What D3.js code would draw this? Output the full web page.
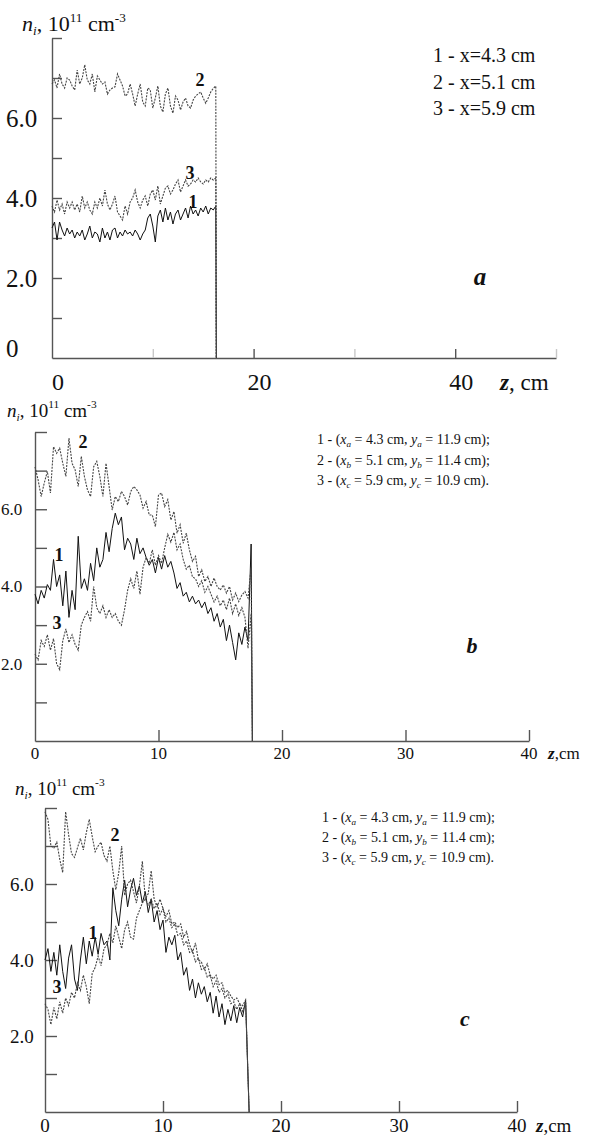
<!DOCTYPE html>
<html>
<head>
<meta charset="utf-8">
<script src="https://cdn.jsdelivr.net/npm/d3@7"></script>
<style>
  body { margin: 0; background: #fff }
  svg text { fill: #111 }
</style>
</head>
<body>
<svg id="fig" width="590" height="1136"></svg>
<script>

// panel a
var aStep = 0.25, aEnd = 16.3
var a1 = [3.25, 3.4, 2.95, 3.4, 3.2, 3.05, 3.25, 3.1, 3.2, 3.0,
  3.15, 3.05, 3.2, 2.95, 3.1, 3.3, 3.0, 3.15, 3.1, 2.9,
  3.25, 3.0, 3.15, 2.95, 3.2, 3.25, 3.0, 3.15, 3.05, 3.2,
  3.1, 3.15, 3.05, 3.2, 3.1, 2.95, 3.1, 3.2, 3.5, 3.6,
  3.3, 2.9, 3.55, 3.7, 3.4, 3.75, 3.45, 3.65, 3.35, 3.6,
  3.7, 3.45, 3.6, 3.75, 3.5, 3.8, 3.6, 3.7, 3.55, 3.75,
  3.65, 3.8, 3.6, 3.75, 3.7, 3.8]
var a2 = [6.85, 6.95, 6.75, 7.1, 6.85, 6.75, 7.0, 6.95, 6.8, 6.7,
  7.2, 6.85, 7.0, 7.33, 6.95, 6.85, 7.1, 6.65, 7.05, 6.95,
  6.85, 6.9, 6.6, 6.7, 6.75, 6.78, 7.1, 6.95, 6.8, 6.55,
  6.6, 6.85, 6.6, 6.3, 6.6, 6.85, 6.4, 6.3, 6.75, 6.7,
  6.25, 6.5, 6.8, 6.3, 6.15, 6.6, 6.75, 6.3, 6.12, 6.55,
  6.45, 6.2, 6.4, 6.5, 6.3, 6.25, 6.45, 6.55, 6.6, 6.65,
  6.5, 6.37, 6.5, 6.65, 6.74, 6.8]
var a3 = [3.8, 3.65, 3.95, 3.7, 3.85, 3.6, 3.9, 3.75, 3.9, 3.7,
  3.85, 3.65, 4.05, 3.75, 3.9, 3.7, 3.6, 3.9, 3.75, 4.0,
  3.8, 4.2, 3.85, 3.7, 3.85, 4.05, 3.65, 3.55, 3.45, 3.8,
  3.6, 3.9, 4.0, 4.2, 3.9, 3.75, 3.95, 4.05, 3.8, 4.1,
  4.2, 3.95, 4.3, 3.85, 4.05, 4.25, 4.3, 4.1, 4.2, 4.35,
  4.45, 4.15, 4.3, 4.45, 4.3, 4.35, 4.45, 4.4, 4.5, 4.4,
  4.35, 4.45, 4.4, 4.5, 4.45, 4.5]

// panel b
var bStep = 0.25, bEnd = 17.6
var b1 = [3.8, 3.55, 3.9, 3.7, 4.05, 3.9, 4.7, 4.0, 4.3, 3.5,
  4.4, 3.2, 3.9, 3.4, 5.3, 3.95, 4.2, 3.9, 4.6, 4.15,
  5.0, 4.5, 4.7, 5.4, 4.9, 5.5, 5.9, 5.6, 5.8, 4.95,
  5.25, 5.1, 4.7, 5.25, 4.85, 5.0, 4.75, 4.55, 4.7, 4.35,
  4.75, 4.45, 4.8, 4.5, 4.65, 4.35, 3.95, 4.1, 3.75, 3.85,
  3.6, 3.75, 3.55, 3.65, 3.45, 3.6, 3.3, 3.45, 3.1, 3.3,
  2.95, 3.15, 2.6, 3.0, 2.55, 2.1, 2.8, 2.5, 2.95, 2.6,
  5.1]
var b2 = [7.1, 6.76, 6.33, 6.68, 6.98, 6.42, 7.62, 7.45, 7.58, 7.19,
  6.85, 7.84, 7.19, 7.02, 6.59, 7.37, 6.85, 6.5, 6.33, 7.1,
  7.24, 6.85, 6.33, 7.19, 6.59, 5.98, 6.33, 6.2, 6.46, 6.33,
  6.11, 6.46, 6.59, 6.5, 6.37, 6.03, 6.2, 5.85, 5.85, 5.55,
  6.37, 6.42, 6.07, 6.25, 5.72, 5.94, 5.38, 5.6, 5.12, 5.38,
  4.95, 4.65, 4.78, 4.26, 4.43, 4.13, 4.26, 4.0, 4.22, 4.0,
  3.91, 4.04, 3.83, 4.0, 3.65, 3.83, 3.61, 3.78, 3.87, 3.7,
  4.5]
var b3 = [2.25, 2.1, 2.6, 2.45, 2.75, 2.35, 2.65, 2.0, 1.85, 2.6,
  2.9, 2.55, 2.75, 2.5, 2.35, 3.0, 3.2, 3.35, 3.1, 4.0,
  3.45, 3.3, 3.5, 3.2, 3.4, 3.2, 3.3, 3.1, 3.0, 3.4,
  3.9, 4.2, 3.95, 4.4, 3.8, 4.5, 4.75, 4.6, 4.95, 4.55,
  4.8, 4.6, 5.0, 5.35, 5.15, 5.4, 4.95, 5.1, 4.7, 4.45,
  4.55, 4.25, 4.2, 4.0, 4.15, 3.85, 4.0, 3.8, 3.6, 3.75,
  3.5, 3.65, 3.4, 3.7, 3.3, 3.55, 3.25, 3.45, 3.2, 2.4,
  3.3]

// panel c
var cStep = 0.25, cEnd = 17.3
var c1 = [4.0, 4.3, 3.7, 4.2, 3.6, 4.4, 3.7, 3.25, 4.05, 4.4,
  3.5, 3.2, 4.0, 4.6, 3.9, 4.5, 4.1, 4.6, 4.15, 4.7,
  4.4, 4.5, 4.0, 5.9, 5.3, 4.9, 5.6, 6.1, 5.4, 5.85,
  6.15, 5.7, 5.95, 5.5, 5.8, 5.25, 5.6, 5.0, 5.3, 4.8,
  5.05, 4.2, 4.6, 4.4, 4.65, 4.0, 4.2, 3.6, 3.8, 3.2,
  3.5, 3.0, 3.4, 3.1, 3.3, 2.9, 3.15, 2.6, 3.05, 2.5,
  2.85, 2.3, 2.7, 2.4, 2.8, 2.35, 2.75, 2.5, 2.95]
var c2 = [7.9, 7.7, 7.0, 6.95, 7.1, 6.65, 6.3, 7.9, 7.3, 6.8,
  6.7, 6.95, 7.2, 6.9, 7.35, 7.7, 7.25, 6.85, 7.0, 7.1,
  6.75, 6.6, 7.0, 6.35, 5.85, 6.3, 7.0, 5.7, 6.0, 6.1,
  5.8, 5.5, 5.95, 6.6, 5.6, 5.75, 6.35, 5.6, 5.4, 5.6,
  5.35, 5.15, 5.3, 4.95, 5.0, 4.85, 4.95, 4.6, 4.75, 4.4,
  4.2, 4.45, 4.0, 3.95, 3.75, 3.9, 3.6, 3.5, 3.6, 3.35,
  3.4, 3.15, 3.2, 3.05, 2.95, 3.0, 2.85, 2.8, 2.95]
var c3 = [2.85, 2.7, 2.3, 2.75, 2.45, 2.9, 2.6, 3.0, 2.8, 3.15,
  3.0, 3.4, 3.2, 3.6, 3.3, 2.85, 3.65, 3.8, 4.1, 3.85,
  4.3, 4.4, 4.7, 4.45, 4.9, 4.6, 4.3, 4.8, 5.0, 4.6,
  4.55, 5.1, 5.3, 5.5, 5.6, 5.45, 5.6, 5.35, 5.5, 5.2,
  5.35, 5.0, 5.1, 4.85, 4.95, 4.65, 4.7, 4.4, 4.5, 4.2,
  4.25, 3.95, 4.05, 3.75, 3.8, 3.55, 3.6, 3.3, 3.45, 3.15,
  3.25, 3.0, 3.1, 2.85, 2.9, 2.7, 2.85, 2.65, 2.9]

var yTicks = [1, 2, 3, 4, 5, 6, 7, 8]
var legendA = ['1 - x=4.3 cm', '2 - x=5.1 cm', '3 - x=5.9 cm']
// curve, subscript, x, y, closing mark
var legendBC = [['1', 'a', '4.3', '11.9', ';'], ['2', 'b', '5.1', '11.4', ';'], ['3', 'c', '5.9', '10.9', '.']]

var serif = 'Liberation Serif, DejaVu Serif, serif'
var svg = d3.select('#fig').attr('font-family', serif)

var panels = [
  {letter: 'a', series: [a1, a2, a3], step: aStep, end: aEnd, zMax: 50, xr: [52, 556], yr: [358, 38], tick: 10,
   xTicks: [10, 20, 30, 40, 50], faint: [10, 30, 50], xLabels: [0, 20, 40], xLabDx: 6, xLabY: 390, xLabSize: 24,
   zLab: [500, 390, 23, ', cm'], yLabels: [0, 2, 4, 6], yLabX: 6, yLabSize: 25,
   title: [22, 31, 22], letterPos: [480, 285, 25], tags: [[193, 208], [200, 86], [190, 179]], tagSize: 18,
   legend: 'a', legPos: [433, 62, 26.5, 20]},
  {letter: 'b', series: [b1, b2, b3], step: bStep, end: bEnd, zMax: 40, xr: [35, 529], yr: [741, 432], tick: 12,
   xTicks: [10, 20, 30, 40], faint: [], xLabels: [0, 10, 20, 30, 40], xLabDx: 0, xLabY: 759, xLabSize: 17,
   zLab: [548, 759, 17, ',cm'], yLabels: [2, 4, 6], yLabX: 1, yLabSize: 17,
   title: [7, 417, 19], letterPos: [472, 653, 22], tags: [[59, 561], [83, 448], [57, 629]], tagSize: 18,
   legend: 'bc', legPos: [317, 444, 20.5, 14]},
  {letter: 'c', series: [c1, c2, c3], step: cStep, end: cEnd, zMax: 40, xr: [45, 517], yr: [1112, 808], tick: 12,
   xTicks: [10, 20, 30, 40], faint: [], xLabels: [0, 10, 20, 30, 40], xLabDx: 0, xLabY: 1132, xLabSize: 19,
   zLab: [536, 1132, 19, ',cm'], yLabels: [2, 4, 6], yLabX: 10, yLabSize: 19,
   title: [15, 795, 19], letterPos: [465, 1026, 22], tags: [[93, 939], [115, 841], [57, 993]], tagSize: 18,
   legend: 'bc', legPos: [322, 822, 20, 14]}
]

function yTitle(g, x, y, size) {
  var t = g.append('text').attr('x', x).attr('y', y).attr('font-size', size)
  t.append('tspan').attr('font-style', 'italic').text('n')
  t.append('tspan').attr('font-style', 'italic').attr('font-size', size * 0.6).attr('dy', 4).text('i')
  t.append('tspan').attr('dy', -4).text(', 10')
  t.append('tspan').attr('font-size', size * 0.6).attr('dy', -9).text('11')
  t.append('tspan').attr('dy', 9).text(' cm')
  t.append('tspan').attr('font-size', size * 0.6).attr('dy', -9).text('-3')
}

function drawPanel(p) {
  var x = d3.scaleLinear().domain([0, p.zMax]).range(p.xr)
  var y = d3.scaleLinear().domain([0, 8]).range(p.yr)
  var g = svg.append('g')

  g.append('g').attr('transform', 'translate(' + p.xr[0] + ',0)')
    .call(d3.axisRight(y).tickValues(yTicks).tickSize(p.tick).tickSizeOuter(0).tickFormat(''))
  var xa = g.append('g').attr('transform', 'translate(0,' + p.yr[0] + ')')
    .call(d3.axisTop(x).tickValues(p.xTicks).tickSize(p.tick - 1).tickSizeOuter(0).tickFormat(''))
  g.selectAll('.domain, .tick line').attr('stroke', '#555').attr('stroke-width', 1.4)
  xa.selectAll('.tick line').filter(function(d) { return p.faint.indexOf(d) >= 0 }).attr('stroke', '#c8c8c8')
  g.selectAll('.tick text').remove()
  g.selectAll('g').attr('font-family', null)

  var line = d3.line().x(function(d) { return x(d[0]) }).y(function(d) { return y(d[1]) })
  p.series.forEach(function(vals, s) {
    var pts = vals.map(function(v, i) { return [i * p.step, v] })
    pts.push([p.end, 0])
    g.append('path').datum(pts).attr('d', line).attr('fill', 'none')
      .attr('stroke', s == 0 ? '#111' : '#444').attr('stroke-width', s == 0 ? 1 : 1.1)
      .attr('stroke-dasharray', s == 0 ? null : '2,1.2')
  })

  // tick labels
  g.selectAll('.xl').data(p.xLabels).enter().append('text')
    .attr('x', function(d) { return x(d) + p.xLabDx }).attr('y', p.xLabY)
    .attr('text-anchor', 'middle').attr('font-size', p.xLabSize).text(function(d) { return d })
  var zl = g.append('text').attr('x', p.zLab[0]).attr('y', p.zLab[1]).attr('font-size', p.zLab[2])
  zl.append('tspan').attr('font-weight', 'bold').attr('font-style', 'italic').text('z')
  zl.append('tspan').text(p.zLab[3])
  g.selectAll('.yl').data(p.yLabels).enter().append('text')
    .attr('x', p.yLabX).attr('y', function(d) { return y(d) - (d == 0 ? 10 : 0) })
    .attr('dy', '0.35em').attr('font-size', p.yLabSize)
    .text(function(d) { return d == 0 ? '0' : d3.format('.1f')(d) })

  yTitle(g, p.title[0], p.title[1], p.title[2])

  g.append('text').attr('x', p.letterPos[0]).attr('y', p.letterPos[1]).attr('font-size', p.letterPos[2])
    .attr('font-weight', 'bold').attr('font-style', 'italic').attr('text-anchor', 'middle').text(p.letter)

  p.tags.forEach(function(t, i) {
    g.append('text').attr('x', t[0]).attr('y', t[1]).attr('font-size', p.tagSize)
      .attr('font-weight', 'bold').attr('text-anchor', 'middle').text(i + 1)
  })

  var lp = p.legPos
  if (p.legend == 'a') {
    legendA.forEach(function(s, i) {
      g.append('text').attr('x', lp[0]).attr('y', lp[1] + i * lp[2]).attr('font-size', lp[3]).text(s)
    })
  } else {
    legendBC.forEach(function(r, i) {
      var t = g.append('text').attr('x', lp[0]).attr('y', lp[1] + i * lp[2]).attr('font-size', lp[3])
      t.append('tspan').text(r[0] + ' - (')
      t.append('tspan').attr('font-style', 'italic').text('x')
      t.append('tspan').attr('font-style', 'italic').attr('font-size', lp[3] * 0.65).attr('dy', 3).text(r[1])
      t.append('tspan').attr('dy', -3).text(' = ' + r[2] + ' cm, ')
      t.append('tspan').attr('font-style', 'italic').text('y')
      t.append('tspan').attr('font-style', 'italic').attr('font-size', lp[3] * 0.65).attr('dy', 3).text(r[1])
      t.append('tspan').attr('dy', -3).text(' = ' + r[3] + ' cm)' + r[4])
    })
  }
}

panels.forEach(drawPanel)
</script>
</body>
</html>
